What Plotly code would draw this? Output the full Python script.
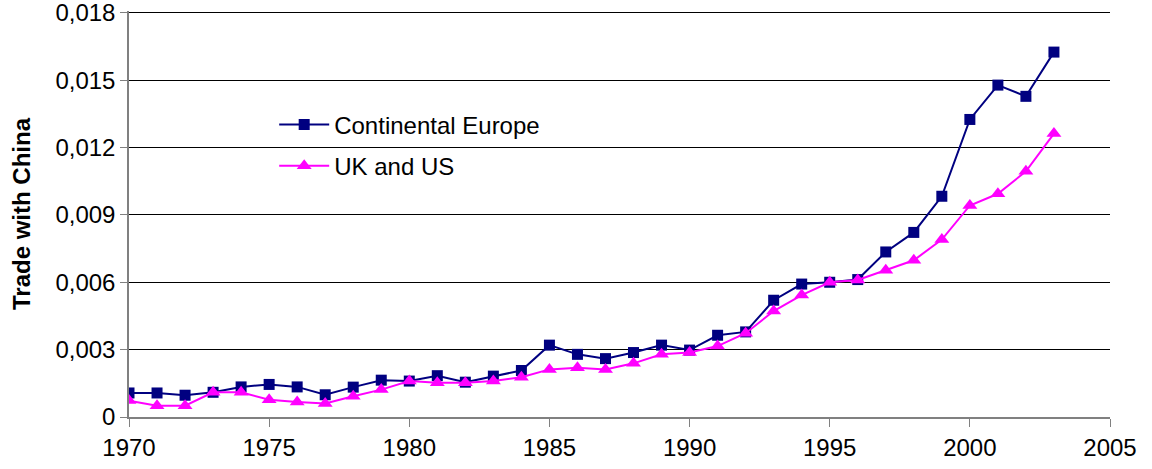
import plotly.graph_objects as go

years = list(range(1970, 2004))
continental_europe = [0.00107, 0.00107, 0.00097, 0.0011, 0.00134, 0.00145, 0.00134, 0.00099, 0.00133, 0.00164,
                      0.0016, 0.00184, 0.00155, 0.00182, 0.00207, 0.0032, 0.00279, 0.0026, 0.00287, 0.0032,
                      0.00298, 0.00364, 0.00379, 0.0052, 0.00592, 0.006, 0.00612, 0.00735, 0.00822, 0.00983,
                      0.01325, 0.01478, 0.01428, 0.01625]
uk_and_us = [0.00073, 0.0005, 0.0005, 0.0011, 0.0011, 0.00077, 0.00067, 0.0006, 0.00092, 0.00122,
             0.0016, 0.00152, 0.00152, 0.0016, 0.00177, 0.00212, 0.00219, 0.00212, 0.00239, 0.00279,
             0.00287, 0.00316, 0.00373, 0.00472, 0.00543, 0.006, 0.0061, 0.00654, 0.00698, 0.0079,
             0.00942, 0.00994, 0.01094, 0.01262]
y_ticks = [0, 0.003, 0.006, 0.009, 0.012, 0.015, 0.018]
y_tick_labels = ["0", "0,003", "0,006", "0,009", "0,012", "0,015", "0,018"]
x_ticks = [1970, 1975, 1980, 1985, 1990, 1995, 2000, 2005]

FONT = "Liberation Sans, Arial, sans-serif"
FS = 24

fig = go.Figure()
fig.add_trace(go.Scatter(
    x=years, y=continental_europe, name="Continental Europe", mode="lines+markers",
    line=dict(color="#000080", width=2),
    marker=dict(symbol="square", size=11, color="#000080"),
    legendgroup="a",
))
fig.add_trace(go.Scatter(
    x=years, y=uk_and_us, name="UK and US", mode="lines+markers",
    line=dict(color="#FF00FF", width=2),
    marker=dict(symbol="triangle-up", size=13, color="#FF00FF"),
    legendgroup="b",
))

fig.update_layout(
    width=1152, height=469,
    margin=dict(l=129, r=42, t=11, b=52, autoexpand=False),
    paper_bgcolor="white", plot_bgcolor="white",
    font=dict(family=FONT, size=FS, color="black"),
    showlegend=True,
    legend=dict(
        x=0.148, y=0.775, xanchor="left", yanchor="top",
        bgcolor="rgba(0,0,0,0)", borderwidth=0,
        font=dict(family=FONT, size=FS, color="black"),
        itemwidth=50, tracegroupgap=7,
    ),
    xaxis=dict(
        range=[1970, 2005], tickmode="array", tickvals=x_ticks,
        showgrid=False, zeroline=False, automargin=False,
        showline=True, linecolor="#808080", linewidth=1.5,
        ticks="outside", ticklen=8, tickcolor="#808080",
        ticklabeloverflow="allow",
        tickfont=dict(family=FONT, size=FS, color="black"),
    ),
    yaxis=dict(
        range=[0, 0.01808], tickmode="array", tickvals=y_ticks, ticktext=y_tick_labels,
        showgrid=True, gridcolor="#000000", gridwidth=1,
        zeroline=False, automargin=False,
        showline=True, linecolor="#808080", linewidth=1.5,
        ticks="outside", ticklen=7, tickcolor="#808080",
        ticklabeloverflow="allow",
        tickfont=dict(family=FONT, size=FS, color="black"),
        title=dict(text="<b>Trade with China</b>", font=dict(family=FONT, size=FS, color="black"), standoff=18),
    ),
)

fig.write_html("out.html", config={"displayModeBar": False},
               post_script="document.body.style.margin='0';")
